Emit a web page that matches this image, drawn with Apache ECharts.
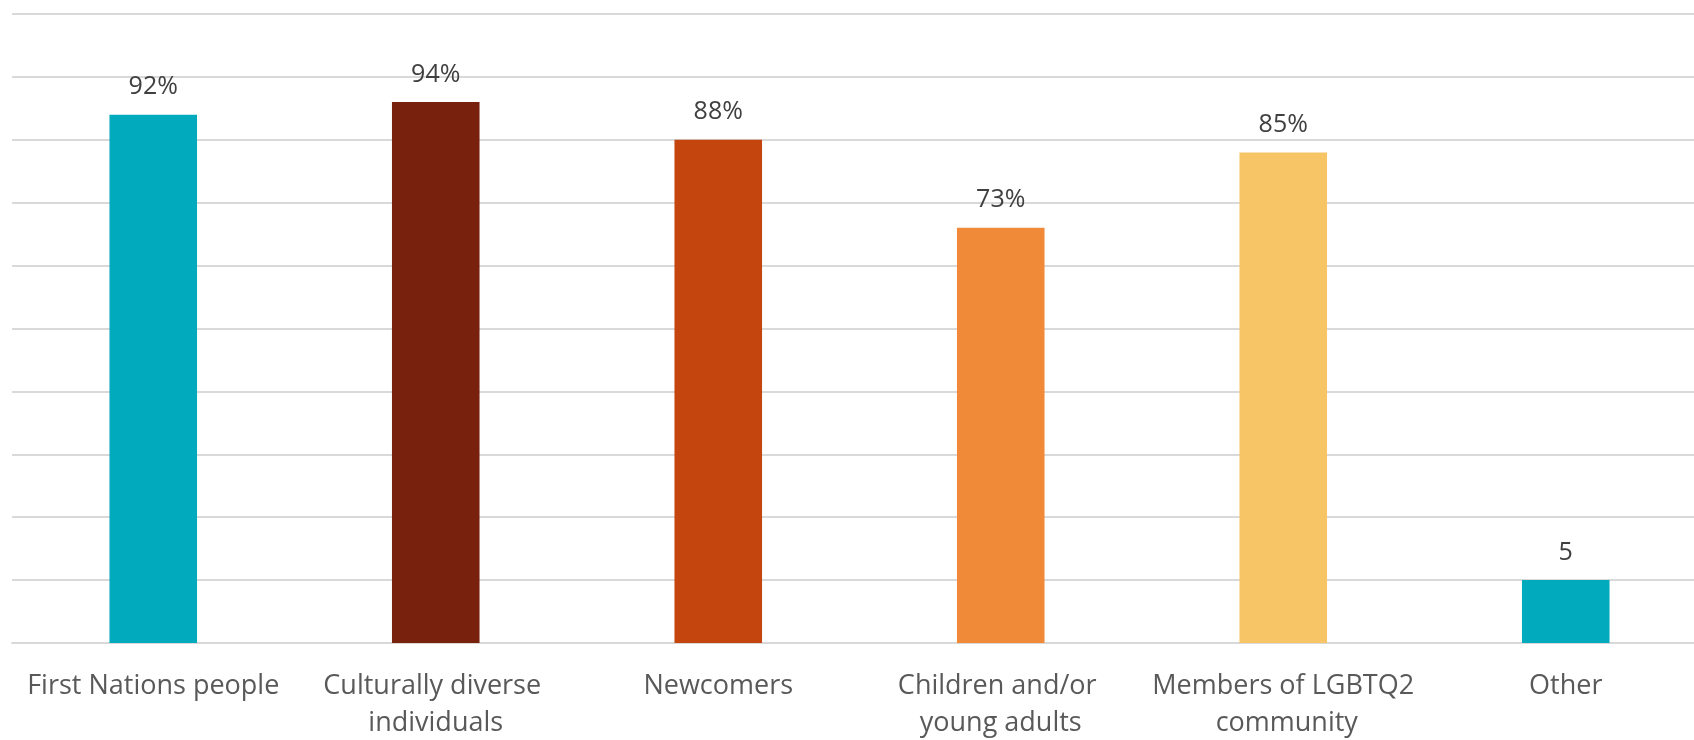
<!DOCTYPE html>
<html>
<head>
<meta charset="utf-8">
<script src="https://cdn.jsdelivr.net/npm/echarts@6/dist/echarts.min.js"></script>
<style>html,body{margin:0;padding:0;background:#fff}#c{width:1694px;height:740px}</style>
</head>
<body>
<div id="c"></div>
<script>
const categories = ["First Nations people", "Culturally diverse individuals", "Newcomers", "Children and/or young adults", "Members of LGBTQ2 community", "Other"];
const values = [42, 43, 40, 33, 39, 5];
const valueLabels = ["92%", "94%", "88%", "73%", "85%", "5"];
const barColors = ["#02AABD", "#78220E", "#C4450E", "#F08A39", "#F7C566", "#02AABD"];

const chart = echarts.init(document.getElementById('c'));
chart.setOption({
  animation: false,
  grid: { left: 12, right: -13, top: 14, bottom: 97, containLabel: false, outerBoundsMode: 'none' },
  xAxis: {
    type: 'category',
    data: categories,
    axisTick: { show: false },
    axisLine: { show: true, lineStyle: { color: '#d9d9d9', width: 2 } },
    axisLabel: {
      interval: 0,
      color: '#595959',
      fontFamily: 'Open Sans',
      fontSize: 27,
      lineHeight: 37,
      margin: 25,
      width: 265,
      overflow: 'break'
    }
  },
  yAxis: {
    type: 'value',
    min: 0, max: 50, interval: 5,
    axisLabel: { show: false },
    axisLine: { show: false },
    axisTick: { show: false },
    splitLine: { lineStyle: { color: '#d9d9d9', width: 2 } }
  },
  series: [{
    type: 'bar',
    barWidth: '31%',
    data: values.map((v, i) => ({ value: v, itemStyle: { color: barColors[i] } })),
    label: {
      show: true,
      position: 'top',
      distance: 15,
      color: '#404040',
      fontFamily: 'Open Sans',
      fontSize: 25,
      formatter: p => valueLabels[p.dataIndex]
    }
  }]
});
</script>
</body>
</html>
